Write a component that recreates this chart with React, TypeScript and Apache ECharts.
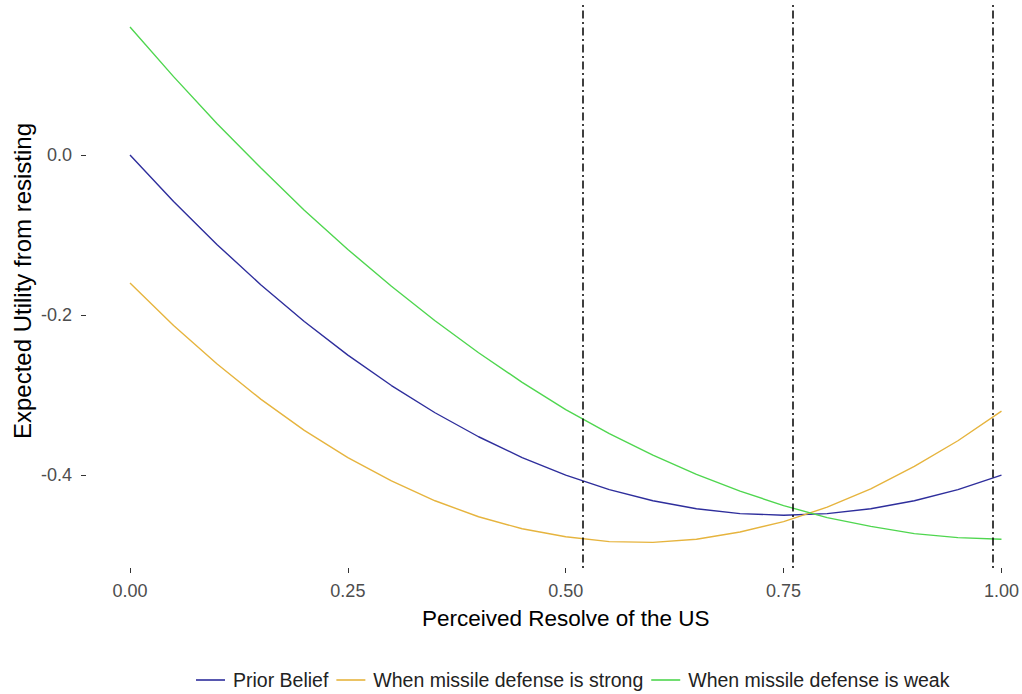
import React, { useEffect, useRef } from "react";
import * as echarts from "echarts";

const xValues = [0, 0.05, 0.1, 0.15, 0.2, 0.25, 0.3, 0.35, 0.4, 0.45, 0.5, 0.55, 0.6, 0.65, 0.7, 0.75, 0.8, 0.85, 0.9, 0.95, 1.0];
const priorBelief = [0, -0.058, -0.112, -0.162, -0.208, -0.25, -0.288, -0.322, -0.352, -0.378, -0.4, -0.418, -0.432, -0.442, -0.448, -0.45, -0.448, -0.442, -0.432, -0.418, -0.4];
const strongDefense = [-0.16, -0.213, -0.261, -0.305, -0.344, -0.378, -0.407, -0.432, -0.452, -0.467, -0.477, -0.483, -0.484, -0.48, -0.471, -0.458, -0.44, -0.417, -0.389, -0.357, -0.32];
const weakDefense = [0.16, 0.098, 0.039, -0.016, -0.069, -0.118, -0.164, -0.207, -0.247, -0.284, -0.318, -0.348, -0.375, -0.399, -0.42, -0.438, -0.453, -0.464, -0.473, -0.478, -0.48];
const verticalLines = [0.52, 0.76, 0.99];
const yTicks = [-0.4, -0.2, 0.0];
const seriesNames = ["Prior Belief", "When missile defense is strong", "When missile defense is weak"];
const xTitle = "Perceived Resolve of the US";
const yTitle = "Expected Utility from resisting";

const FONT = "'Liberation Sans', Arial, sans-serif";

export default function App() {
  const ref = useRef<HTMLDivElement>(null);
  useEffect(() => {
    if (!ref.current) return;
    const chart = echarts.init(ref.current, null, { renderer: "svg" });
    const pair = (ys: number[]) => xValues.map((x, i) => [x, ys[i]]);
    const colors = ["#2e2e9c", "#e6b43e", "#4fd64f"];
    const datasets = [priorBelief, strongDefense, weakDefense];
    chart.setOption({
      animation: false,
      backgroundColor: "#ffffff",
      grid: { left: 130, right: 20, top: 5, bottom: 126, containLabel: false },
      legend: {
        data: seriesNames,
        left: 196,
        top: 670,
        padding: 0,
        icon: "rect",
        itemWidth: 29,
        itemHeight: 1.6,
        itemGap: 8,
        textStyle: { fontFamily: FONT, fontSize: 19.5, color: "#222222", padding: [0, 0, 0, 3] },
      },
      graphic: [
        {
          type: "text",
          x: 22,
          y: 281,
          rotation: Math.PI / 2,
          style: {
            text: yTitle,
            fontFamily: FONT,
            fontSize: 24,
            fill: "#000000",
            textAlign: "center",
            textVerticalAlign: "middle",
          },
        },
      ],
      xAxis: {
        type: "value",
        min: 0,
        max: 1,
        interval: 0.25,
        name: xTitle,
        nameLocation: "middle",
        nameGap: 39,
        nameTextStyle: { fontFamily: FONT, fontSize: 22.5, color: "#000000" },
        axisLine: { show: false, onZero: false },
        axisTick: { show: true, length: 5, lineStyle: { color: "#333333", width: 1 } },
        axisLabel: {
          fontFamily: FONT,
          fontSize: 18,
          color: "#4d4d4d",
          margin: 14,
          formatter: (v: number) => v.toFixed(2),
        },
        splitLine: { show: false },
      },
      yAxis: {
        type: "value",
        min: -0.516,
        max: 0.1875,
        offset: 44,
        axisLine: { show: false, onZero: false },
        axisTick: { show: true, length: 5, customValues: yTicks, lineStyle: { color: "#333333", width: 1 } },
        axisLabel: {
          fontFamily: FONT,
          fontSize: 18,
          color: "#4d4d4d",
          margin: 14,
          customValues: yTicks,
          formatter: (v: number) => v.toFixed(1),
        },
        splitLine: { show: false },
      },
      series: datasets.map((ys, i) => ({
        name: seriesNames[i],
        type: "line",
        data: pair(ys),
        symbol: "none",
        color: colors[i],
        lineStyle: { color: colors[i], width: 1.4 },
        ...(i === 0
          ? {
              markLine: {
                silent: true,
                symbol: "none",
                label: { show: false },
                lineStyle: { color: "#000000", width: 1.5, type: [2, 3.5, 8, 3.5] },
                data: verticalLines.map((v) => ({ xAxis: v })),
              },
            }
          : {}),
      })),
    });
    return () => chart.dispose();
  }, []);
  return (
    <div
      ref={ref}
      style={{ position: "fixed", left: 0, top: 0, width: 1022, height: 694, background: "#fff" }}
    />
  );
}
